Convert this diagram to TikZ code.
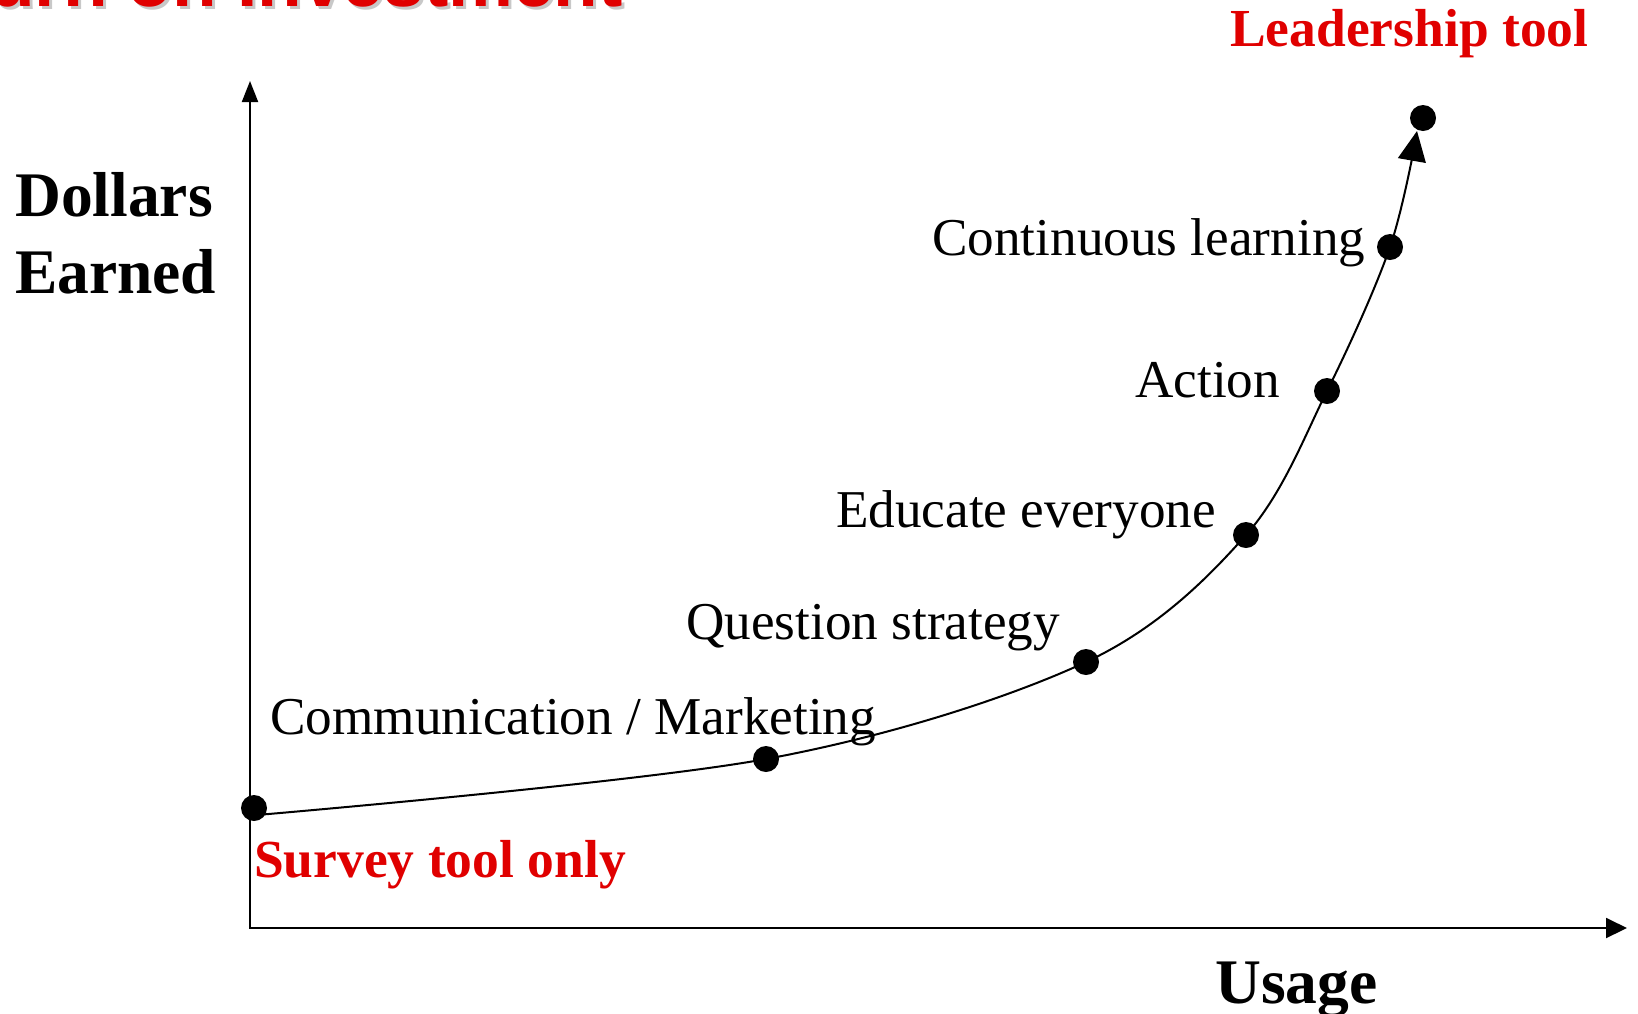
\documentclass[tikz,border=0pt]{standalone}
\usepackage{fontspec}
\setmainfont{Liberation Serif}
\newfontfamily\titulofont{Liberation Sans}
\usetikzlibrary{arrows.meta}
\definecolor{rojo}{RGB}{224,0,0}
\definecolor{sombra}{RGB}{200,200,200}

\begin{document}
\begin{tikzpicture}[x=1pt,y=-1pt,
  punto/.style={circle,fill=black,inner sep=0pt,minimum size=26pt},
  etiqueta/.style={anchor=base west,inner sep=0pt,font=\fontsize{53.2}{60}\selectfont},
  ejetxt/.style={anchor=base west,inner sep=0pt,font=\fontsize{63.5}{72}\selectfont\bfseries},
  rojotxt/.style={anchor=base west,inner sep=0pt,text=rojo,font=\fontsize{53.5}{60}\selectfont\bfseries},
  titulo/.style={anchor=base east,inner sep=0pt,font=\titulofont\fontsize{73}{80}\selectfont\bfseries}]
\def\grosor{2pt};%Grosor de lineas
\path[use as bounding box,clip] (0,0) rectangle (1638,1013);

%Titulo (cortado arriba)
\node[titulo,text=sombra] (titsombra) at (626,9) {Return on Investment};
\node[titulo,text=rojo] (titulo) at (623,6) {Return on Investment};

%Ejes
\coordinate (origen) at (250,928);
\coordinate (ytope) at (250,81);
\coordinate (xtope) at (1627,928);
\draw[line width=\grosor,{Triangle[length=21pt,width=16pt]}-{Triangle[length=21pt,width=20pt]}] (ytope) -- (origen) -- (xtope);

%Puntos de la curva
\foreach \n/\x/\y in {p0/254/808,p1/766/759,p2/1086/662,p3/1246/535,p4/1327/391,p5/1390/247,p6/1423/118}{
    \node[punto] (\n) at (\x,\y) {};
}
\coordinate (inicio) at (257,815);
\coordinate (punta) at (1417,131);
\draw[line width=\grosor,-{Triangle[length=30pt,width=28pt]}] plot[smooth,tension=0.55] coordinates {(inicio) (p1.center) (p2.center) (p3.center) (p4.center) (p5.center) (punta)};

%Textos de los ejes
\node[ejetxt] (dollars) at (15,216) {Dollars};
\node[ejetxt] (earned) at (15,293) {Earned};
\node[ejetxt] (usage) at (1215,1003) {Usage};

%Etapas
\node[etiqueta] (lcont) at (932,255) {Continuous learning};
\node[etiqueta] (lacc) at (1135,397) {Action};
\node[etiqueta] (ledu) at (836,527) {Educate everyone};
\node[etiqueta] (lpreg) at (686,639) {Question strategy};
\node[etiqueta] (lcom) at (270,734) {Communication / Marketing};
\node[rojotxt] (lsurvey) at (254,877) {Survey tool only};
\node[rojotxt] (llead) at (1230,46) {Leadership tool};
\end{tikzpicture}
\end{document}
